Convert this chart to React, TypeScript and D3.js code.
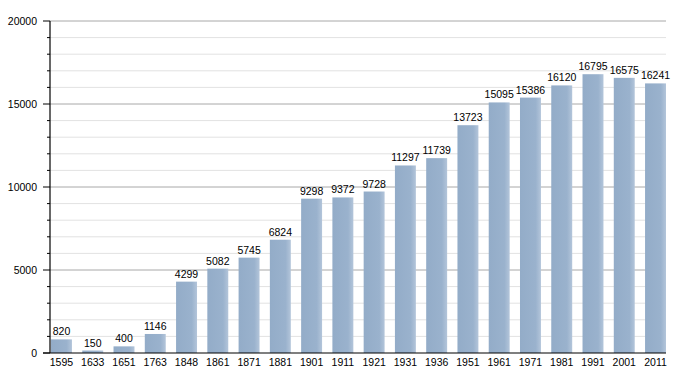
import React from "react";
import * as d3 from "d3";

const years = ["1595", "1633", "1651", "1763", "1848", "1861", "1871", "1881", "1901", "1911",
  "1921", "1931", "1936", "1951", "1961", "1971", "1981", "1991", "2001", "2011"];
const population = [820, 150, 400, 1146, 4299, 5082, 5745, 6824, 9298, 9372,
  9728, 11297, 11739, 13723, 15095, 15386, 16120, 16795, 16575, 16241];
const majorTicks = [0, 5000, 10000, 15000, 20000];

const width = 695,
  height = 373,
  axisX = 50,
  right = 666,
  top = 21,
  bottom = 353;

const App = () => {
  const x = d3.scaleBand().domain(years).range([51, right]).paddingInner(0.33).paddingOuter(0);
  const y = d3.scaleLinear().domain([0, 20000]).range([bottom, top]);
  const minorTicks = d3.range(0, 20001, 1000).filter((v) => v % 5000 !== 0);
  const font = "'Liberation Sans', Arial, sans-serif";

  return (
    <svg width={width} height={height} style={{ position: "absolute", left: 0, top: 0 }}>
      <defs>
        <linearGradient id="barFill" x1="0" x2="1" y1="0" y2="0">
          <stop offset="0%" stopColor="#93acc8" />
          <stop offset="75%" stopColor="#9ab2cd" />
          <stop offset="100%" stopColor="#b3c5da" />
        </linearGradient>
      </defs>
      <rect width={width} height={height} fill="#fff" />
      {minorTicks.map((v) => (
        <g key={`m${v}`}>
          <line x1={axisX} x2={right} y1={y(v)} y2={y(v)} stroke="#e2e2e2" />
          <line x1={axisX - 3} x2={axisX} y1={y(v)} y2={y(v)} stroke="#000" />
        </g>
      ))}
      {majorTicks.map((v) => (
        <g key={`M${v}`}>
          {v > 0 && <line x1={axisX} x2={right} y1={y(v)} y2={y(v)} stroke="#a8a8a8" />}
          <line x1={axisX - 7} x2={axisX} y1={y(v)} y2={y(v)} stroke="#000" />
          <text x={37} y={y(v)} dy="0.35em" textAnchor="end" fontSize={10.5} fontFamily={font} fill="#000">
            {v}
          </text>
        </g>
      ))}
      {years.map((yr, i) => (
        <g key={yr}>
          <rect
            x={x(yr)}
            y={y(population[i])}
            width={x.bandwidth()}
            height={bottom - y(population[i])}
            fill="url(#barFill)"
          />
          <text
            x={(x(yr) as number) + x.bandwidth() / 2}
            y={y(population[i]) - 4}
            textAnchor="middle"
            fontSize={10.5}
            fontFamily={font}
            fill="#000"
          >
            {population[i]}
          </text>
          <text
            x={(x(yr) as number) + x.bandwidth() / 2}
            y={365.5}
            textAnchor="middle"
            fontSize={10.5}
            fontFamily={font}
            fill="#000"
          >
            {yr}
          </text>
        </g>
      ))}
      <line x1={axisX} x2={axisX} y1={top} y2={bottom} stroke="#000" strokeWidth={1.2} />
      <line x1={axisX - 7} x2={right} y1={bottom} y2={bottom} stroke="#000" strokeWidth={1.2} />
    </svg>
  );
};

export default App;
